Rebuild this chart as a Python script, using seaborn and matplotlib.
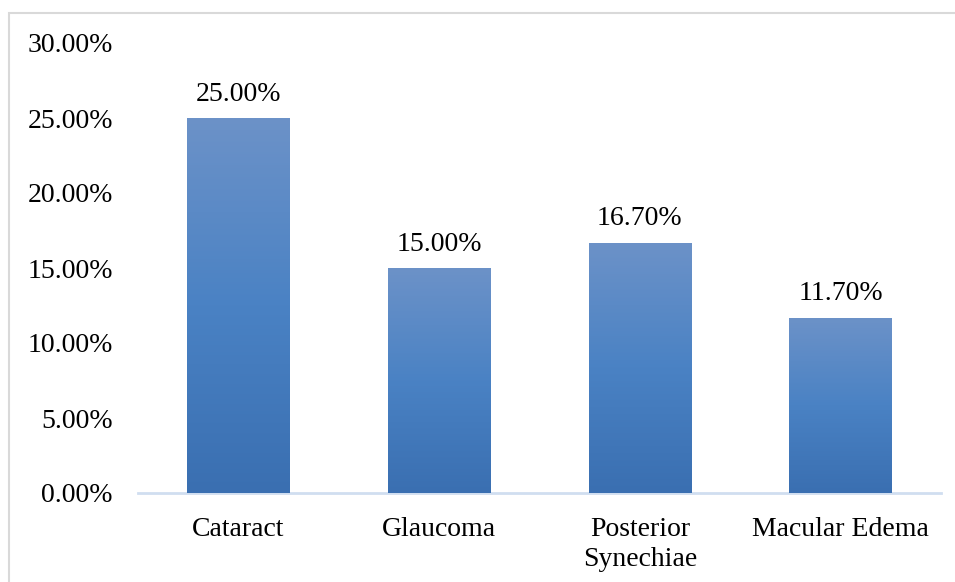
import numpy as np
import pandas as pd
import matplotlib
matplotlib.use("Agg")
import matplotlib.pyplot as plt
from matplotlib.colors import LinearSegmentedColormap
from matplotlib.patches import Rectangle
from matplotlib.ticker import FuncFormatter
import seaborn as sns

# Complication rates (%)
categories = ["Cataract", "Glaucoma", "Posterior\nSynechiae", "Macular Edema"]
values = [25.00, 15.00, 16.70, 11.70]
y_ticks = [0, 5, 10, 15, 20, 25, 30]

df = pd.DataFrame({"category": categories, "value": values})

sns.set_theme(style="white")
plt.rcParams["font.family"] = ["Liberation Serif", "DejaVu Serif"]

FS = 20
W, H = 955, 582
fig = plt.figure(figsize=(W / 100, H / 100), dpi=100)
ax = fig.add_axes([138 / W, (H - 493) / H, (941 - 138) / W, (493 - 43) / H])

sns.barplot(data=df, x="category", y="value", ax=ax, width=0.51,
            color="#4A82C4", saturation=1, edgecolor="none")

# vertical gradient fill inside each bar
grad_cmap = LinearSegmentedColormap.from_list(
    "bar_grad", ["#3A6FB1", "#4A82C4", "#6C92C8"])
grad = np.linspace(0, 1, 256).reshape(-1, 1)
for patch in ax.patches:
    x0, y0 = patch.get_x(), patch.get_y()
    w, h = patch.get_width(), patch.get_height()
    im = ax.imshow(grad, cmap=grad_cmap, origin="lower", aspect="auto",
                   extent=[x0, x0 + w, y0, y0 + h], zorder=patch.get_zorder() + 0.1,
                   interpolation="bilinear")
    im.set_clip_path(patch)

ax.set_xlim(-0.5, len(categories) - 0.5)
ax.set_ylim(0, 30)
ax.set_yticks(y_ticks)
ax.yaxis.set_major_formatter(FuncFormatter(lambda v, _: f"{v:.2f}%"))
ax.set_xlabel("")
ax.set_ylabel("")

for i, v in enumerate(values):
    ax.text(i, v + 0.75, f"{v:.2f}%", ha="center", va="bottom",
            fontsize=FS, color="#000000")

for s in ["top", "right", "left"]:
    ax.spines[s].set_visible(False)
ax.spines["bottom"].set_color("#D0DEF0")
ax.spines["bottom"].set_linewidth(2)
ax.spines["bottom"].set_zorder(0.5)
ax.tick_params(axis="both", length=0, labelsize=FS, labelcolor="#000000")
ax.tick_params(axis="x", pad=17)
ax.tick_params(axis="y", pad=18)
for lbl in ax.get_xticklabels():
    lbl.set_linespacing(1.3)

# chart area frame
fig.patches.append(Rectangle((9 / W, -0.05), 1.1, 1 - 13 / H + 0.05,
                             transform=fig.transFigure, fill=False,
                             edgecolor="#D9D9D9", linewidth=1.5))

fig.savefig("out.png", dpi=100)
